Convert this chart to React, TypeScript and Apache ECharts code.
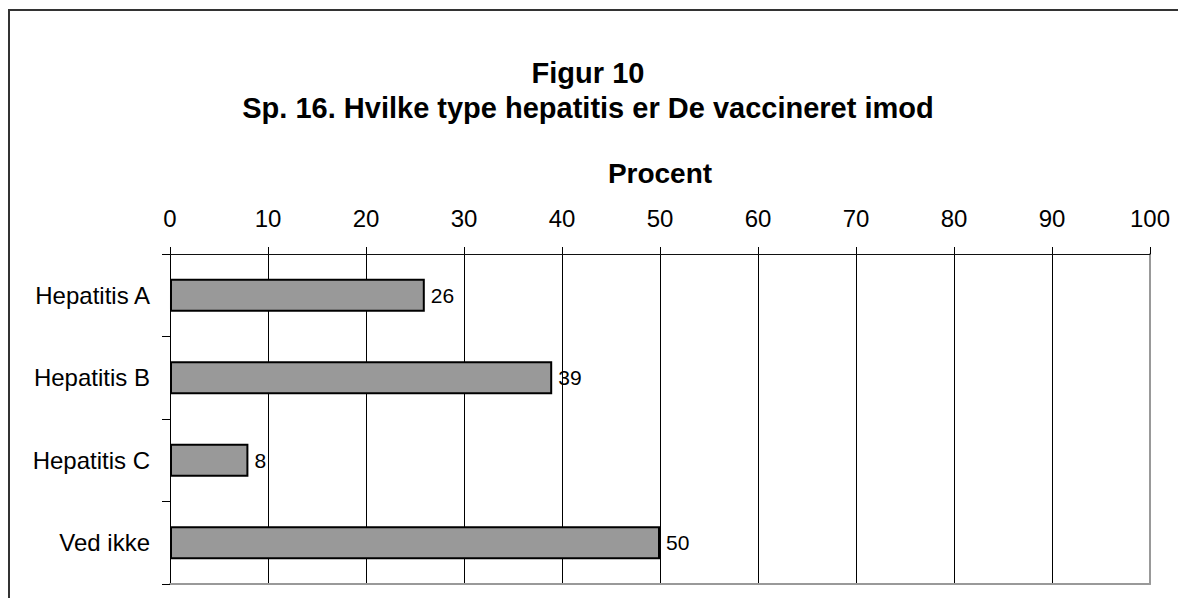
import React, { useEffect, useRef } from "react";
import * as echarts from "echarts";

const categories = ["Hepatitis A", "Hepatitis B", "Hepatitis C", "Ved ikke"];
const values = [26, 39, 8, 50];
const titleLines = ["Figur 10", "Sp. 16. Hvilke type hepatitis er De vaccineret imod"];
const axisName = "Procent";
const xMin = 0;
const xMax = 100;
const xInterval = 10;

const FONT = '"Liberation Sans", Arial, sans-serif';

export default function App() {
  const ref = useRef<HTMLDivElement>(null);

  useEffect(() => {
    if (!ref.current) return;
    const chart = echarts.init(ref.current, null, { renderer: "svg" });
    chart.setOption({
      animation: false,
      backgroundColor: "#fff",
      textStyle: { fontFamily: FONT, color: "#000" },
      graphic: [
        {
          type: "rect",
          silent: true,
          shape: { x: 1, y: 2, width: 1400, height: 800 },
          style: { fill: "none", stroke: "#333", lineWidth: 2 },
        },
        {
          type: "text",
          x: 580,
          y: 65,
          style: {
            text: titleLines[0],
            font: `bold 29px ${FONT}`,
            fill: "#000",
            align: "center",
            verticalAlign: "middle",
          },
        },
        {
          type: "text",
          x: 580,
          y: 100,
          style: {
            text: titleLines[1],
            font: `bold 29px ${FONT}`,
            fill: "#000",
            align: "center",
            verticalAlign: "middle",
          },
        },
      ],
      grid: { left: 162, right: 36, top: 246, bottom: 14, containLabel: false },
      xAxis: [
        {
          type: "value",
          position: "top",
          min: xMin,
          max: xMax,
          interval: xInterval,
          name: axisName,
          nameLocation: "middle",
          nameGap: 67,
          nameTextStyle: { fontSize: 28, fontWeight: "bold", color: "#000", fontFamily: FONT },
          axisLine: { show: true, onZero: false, lineStyle: { color: "#111", width: 1 } },
          axisTick: { show: true, inside: false, length: 7, lineStyle: { color: "#000", width: 1 } },
          axisLabel: { fontSize: 24, color: "#000", margin: 24, fontFamily: FONT },
          splitLine: { show: true, lineStyle: { color: "#000", width: 1 } },
        },
        {
          type: "value",
          position: "bottom",
          min: xMin,
          max: xMax,
          interval: xInterval,
          axisLine: { show: true, onZero: false, lineStyle: { color: "#999", width: 2 } },
          axisTick: { show: false },
          axisLabel: { show: false },
          splitLine: { show: false },
        },
      ],
      yAxis: [
        {
          type: "category",
          data: categories,
          inverse: true,
          axisLine: { show: true, onZero: false, lineStyle: { color: "#000", width: 1 } },
          axisTick: { show: true, inside: false, length: 8, alignWithLabel: false, lineStyle: { color: "#000", width: 1 } },
          axisLabel: { fontSize: 24, color: "#000", margin: 20, fontFamily: FONT },
          splitLine: { show: false },
        },
        {
          type: "category",
          data: categories,
          inverse: true,
          position: "right",
          axisLine: { show: true, onZero: false, lineStyle: { color: "#999", width: 2 } },
          axisTick: { show: false },
          axisLabel: { show: false },
          splitLine: { show: false },
        },
      ],
      series: [
        {
          type: "bar",
          xAxisIndex: 0,
          yAxisIndex: 0,
          data: values,
          barWidth: "40%",
          itemStyle: { color: "#999999", borderColor: "#000", borderWidth: 2 },
          label: {
            show: true,
            position: "right",
            distance: 6,
            fontSize: 21,
            color: "#000",
            fontFamily: FONT,
          },
        },
      ],
    });
    return () => chart.dispose();
  }, []);

  return <div ref={ref} style={{ width: 1178, height: 590 }} />;
}
